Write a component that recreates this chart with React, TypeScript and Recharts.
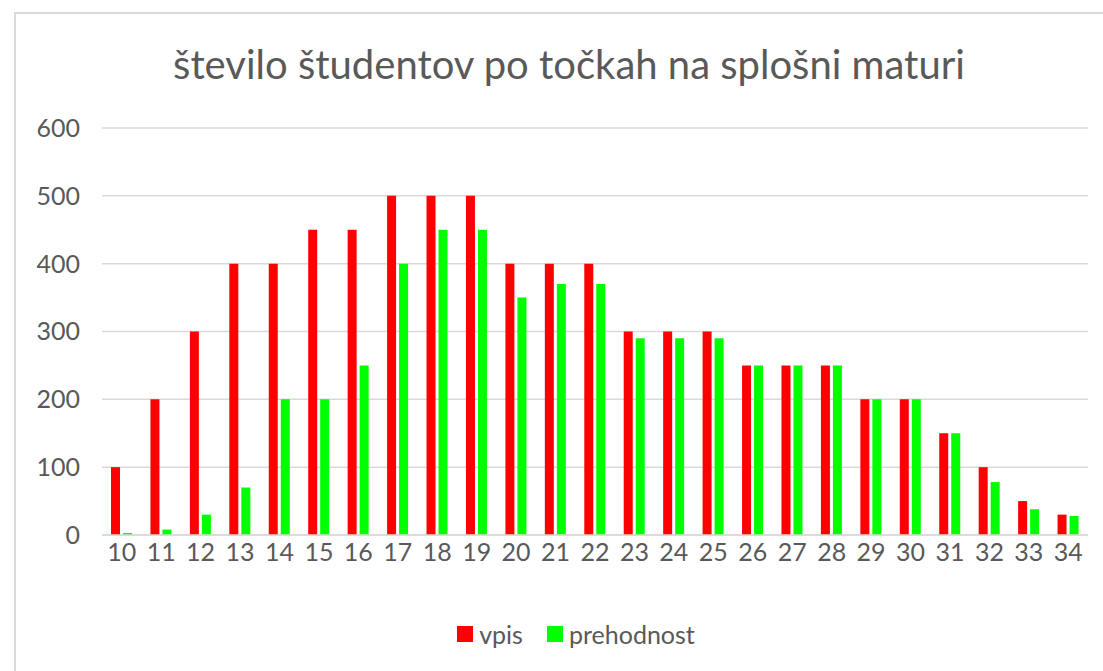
import React from "react";
import { Bar, BarChart, CartesianGrid, Legend, XAxis, YAxis } from "recharts";

// points on the exam
const POINTS = [
  "10", "11", "12", "13", "14", "15", "16", "17", "18", "19", "20", "21", "22",
  "23", "24", "25", "26", "27", "28", "29", "30", "31", "32", "33", "34",
];

// enrolled students
const VPIS = [
  100, 200, 300, 400, 400, 450, 450, 500, 500, 500, 400, 400, 400,
  300, 300, 300, 250, 250, 250, 200, 200, 150, 100, 50, 30,
];

// students who passed
const PREHODNOST = [
  3, 8, 30, 70, 200, 200, 250, 400, 450, 450, 350, 370, 370,
  290, 290, 290, 250, 250, 250, 200, 200, 150, 78, 38, 28,
];

const Y_TICKS = [0, 100, 200, 300, 400, 500, 600];
const SERIES_ORDER = ["vpis", "prehodnost"];

const FONT = "Lato, 'Open Sans', sans-serif";
const TEXT_GRAY = "#595959";
const GRID_GRAY = "#d9d9d9";

const chartData = POINTS.map((p, i) => ({
  name: p,
  vpis: VPIS[i],
  prehodnost: PREHODNOST[i],
}));

const LegendContent = ({ payload }: any) => {
  const items = [...(payload || [])].sort(
    (a: any, b: any) => SERIES_ORDER.indexOf(a.dataKey) - SERIES_ORDER.indexOf(b.dataKey)
  );
  return (
    <div
      style={{
        display: "flex",
        justifyContent: "center",
        gap: 24,
        paddingLeft: 64,
        fontFamily: FONT,
        fontSize: 25,
        color: TEXT_GRAY,
      }}
    >
      {items.map((entry: any) => (
        <div key={entry.value} style={{ display: "flex", alignItems: "center" }}>
          <span style={{ display: "inline-block", width: 16, height: 16, background: entry.color, marginRight: 6 }} />
          <span>{entry.value}</span>
        </div>
      ))}
    </div>
  );
};

export default function App() {
  return (
    <div style={{ position: "absolute", left: 0, top: 0, width: 1103, height: 671, overflow: "hidden", background: "#fff" }}>
      <div
        style={{
          position: "absolute",
          left: 14,
          top: 12,
          width: 1200,
          height: 800,
          border: `2px solid ${GRID_GRAY}`,
          boxSizing: "border-box",
        }}
      />
      <div
        style={{
          position: "absolute",
          left: 0,
          width: 1138,
          top: 44,
          textAlign: "center",
          fontFamily: FONT,
          fontSize: 40,
          lineHeight: 1,
          color: TEXT_GRAY,
        }}
      >
        število študentov po točkah na splošni maturi
      </div>
      <div style={{ position: "absolute", left: 0, top: 0 }}>
        <BarChart
          width={1103}
          height={671}
          data={chartData}
          margin={{ top: 128, right: 15, left: 0, bottom: 64 }}
          barSize={9}
          barGap={3}
        >
          <CartesianGrid vertical={false} stroke={GRID_GRAY} strokeWidth={1.5} />
          <XAxis
            dataKey="name"
            height={42}
            tickLine={false}
            tickSize={0}
            tickMargin={8}
            axisLine={{ stroke: GRID_GRAY, strokeWidth: 1.5 }}
            tick={{ fontFamily: FONT, fontSize: 25, fill: TEXT_GRAY }}
            interval={0}
          />
          <YAxis
            width={102}
            domain={[0, 600]}
            ticks={Y_TICKS}
            tickLine={false}
            tickSize={0}
            tickMargin={22}
            axisLine={false}
            tick={{ fontFamily: FONT, fontSize: 25, fill: TEXT_GRAY }}
          />
          <Legend
            verticalAlign="bottom"
            content={<LegendContent />}
            wrapperStyle={{ bottom: 22 }}
          />
          <Bar dataKey="vpis" name="vpis" fill="#ff0000" isAnimationActive={false} />
          <Bar dataKey="prehodnost" name="prehodnost" fill="#00ff00" isAnimationActive={false} />
        </BarChart>
      </div>
    </div>
  );
}
